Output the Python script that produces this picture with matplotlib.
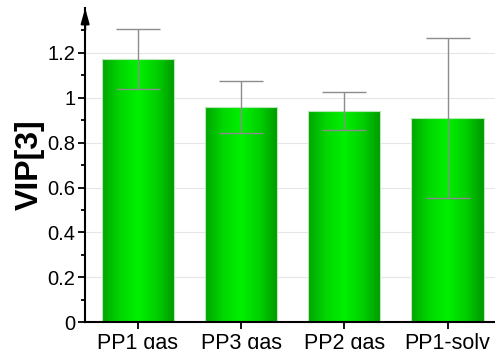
import numpy as np
import matplotlib.pyplot as plt
from matplotlib.colors import LinearSegmentedColormap

plt.rcParams['font.family'] = ['Liberation Sans', 'DejaVu Sans']

# bar data
categories = ['PP1 gas', 'PP3 gas', 'PP2 gas', 'PP1-solv']
vip = [1.172, 0.959, 0.940, 0.910]
err = [0.134, 0.116, 0.085, 0.356]

fig = plt.figure(figsize=(4.95, 3.49), dpi=100)
ax = fig.add_axes([0.172, 0.077, 0.828, 0.90])

x = np.arange(len(categories))
bars = ax.bar(x, vip, width=0.7, color='none', edgecolor='#b8e8b8', linewidth=0.8, zorder=2)

# dark edges, bright centre
cmap = LinearSegmentedColormap.from_list('grn', ['#00a400', '#00d800', '#00f000', '#00d000', '#009800'])
grad = np.linspace(0, 1, 256).reshape(1, -1)
for b in bars:
    x0, w, h = b.get_x(), b.get_width(), b.get_height()
    im = ax.imshow(grad, cmap=cmap, aspect='auto', extent=[x0, x0 + w, 0, h], zorder=1.5)
    im.set_clip_path(b)

ax.errorbar(x, vip, yerr=err, fmt='none', ecolor='#8c8c8c', elinewidth=1.0,
            capsize=15.5, capthick=1.0, zorder=3)

ax.set_xlim(-0.51, 3.46)
ax.set_ylim(0, 1.40)
ax.set_yticks([0, 0.2, 0.4, 0.6, 0.8, 1.0, 1.2])
ax.set_yticklabels(['0', '0.2', '0.4', '0.6', '0.8', '1', '1.2'])
ax.set_yticks(np.arange(0.1, 1.35, 0.2), minor=True)
ax.set_xticks(x)
ax.set_xticklabels(categories)
ax.tick_params(axis='both', width=1.3, length=5, direction='out', pad=2)
ax.tick_params(axis='y', labelsize=14.5)
ax.tick_params(axis='x', labelsize=15.5, pad=3)
ax.tick_params(axis='y', which='minor', width=1.3, length=3)
ax.grid(axis='y', color='#e6e6e6', linewidth=0.8, zorder=0)
ax.set_axisbelow(True)

for s in ['top', 'right']:
    ax.spines[s].set_visible(False)
ax.spines['left'].set_linewidth(1.5)
ax.spines['bottom'].set_linewidth(1.5)

# arrow head at top of y axis
ax.annotate('', xy=(0, 1.0), xytext=(0, 0.93), xycoords='axes fraction',
            arrowprops=dict(arrowstyle='-|>,head_length=0.9,head_width=0.25',
                            color='black', lw=1.5, shrinkA=0, shrinkB=0),
            annotation_clip=False)

ax.set_ylabel('VIP[3]', fontsize=23, fontweight='bold', labelpad=2)

fig.savefig('out.png', dpi=100)
